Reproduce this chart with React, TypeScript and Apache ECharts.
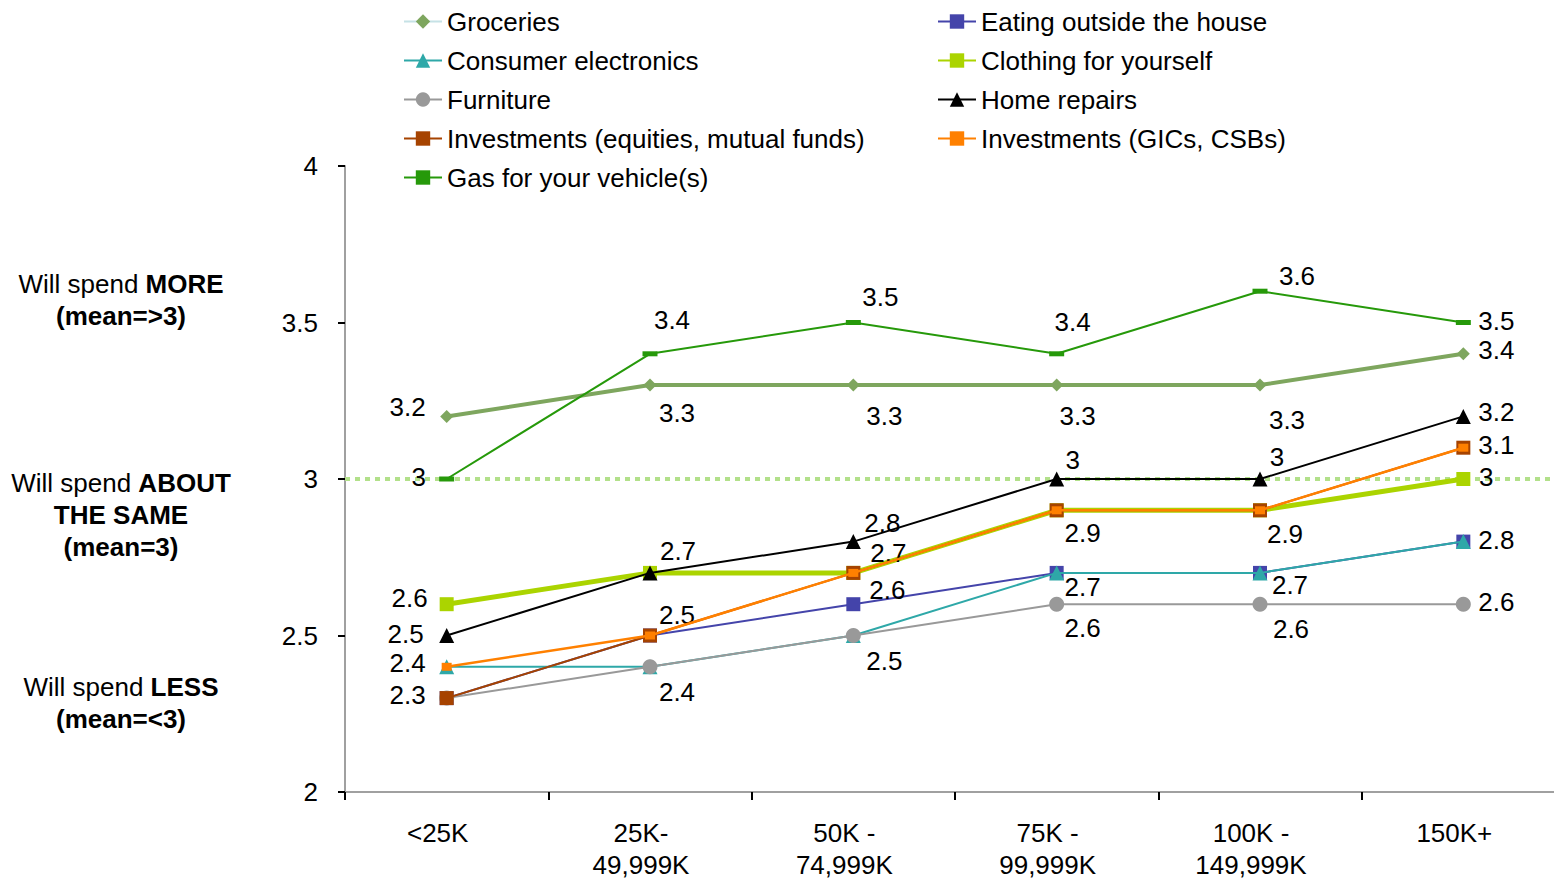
import React, { useEffect, useRef } from 'react';
import * as echarts from 'echarts';

const categories = ['<25K', '25K-\n49,999K', '50K -\n74,999K', '75K -\n99,999K', '100K -\n149,999K', '150K+'];
const groceries = [3.2, 3.3, 3.3, 3.3, 3.3, 3.4];
const eatingOut = [2.3, 2.5, 2.6, 2.7, 2.7, 2.8];
const electronics = [2.4, 2.4, 2.5, 2.7, 2.7, 2.8];
const clothing = [2.6, 2.7, 2.7, 2.9, 2.9, 3.0];
const furniture = [2.3, 2.4, 2.5, 2.6, 2.6, 2.6];
const homeRepairs = [2.5, 2.7, 2.8, 3.0, 3.0, 3.2];
const investEquities = [2.3, 2.5, 2.7, 2.9, 2.9, 3.1];
const investGICs = [2.4, 2.5, 2.7, 2.9, 2.9, 3.1];
const gas = [3.0, 3.4, 3.5, 3.4, 3.6, 3.5];
const yMin = 2;
const yMax = 4;
const yInterval = 0.5;
const meanValue = 3;

const FONT = '"Liberation Sans", Arial, sans-serif';

type Off = [number, number] | null;

// label offsets (label centre relative to the point), styling only
const labelOffsets: Record<string, Off[]> = {
  Groceries: [[-39, -9], [27, 28], [31, 31], [21, 31], [27, 35], [33, -4]],
  'Eating outside the house': [null, null, [34, -14], null, null, null],
  'Consumer electronics': [null, null, null, [26, 14], [30, 12], [33, -2]],
  'Clothing for yourself': [[-37, -6], null, null, [26, 23], [25, 24], [23, -2]],
  Furniture: [null, [27, 25], [31, 25], [26, 24], [31, 25], [33, -2]],
  'Home repairs': [[-41, -2], [28, -22], [29, -19], [16, -19], [17, -22], [33, -4]],
  'Investments (equities, mutual funds)': [[-39, -3], [27, -21], [35, -20], null, null, [33, -3]],
  'Investments (GICs, CSBs)': [[-39, -4], null, null, null, null, null],
  'Gas for your vehicle(s)': [[-28, -2], [22, -34], [27, -26], [16, -32], [37, -15], [33, -2]],
};

const seriesDefs = [
  { name: 'Groceries', values: groceries, color: '#7EA65E', width: 4, symbol: 'diamond', size: 13 },
  { name: 'Eating outside the house', values: eatingOut, color: '#4444AA', width: 2, symbol: 'rect', size: 14 },
  { name: 'Consumer electronics', values: electronics, color: '#2EA8A8', width: 2, symbol: 'triangle', size: 15 },
  { name: 'Clothing for yourself', values: clothing, color: '#ABD400', width: 5, symbol: 'rect', size: 14 },
  { name: 'Furniture', values: furniture, color: '#999999', width: 2, symbol: 'circle', size: 15 },
  { name: 'Home repairs', values: homeRepairs, color: '#000000', width: 2, symbol: 'triangle', size: 15 },
  { name: 'Investments (equities, mutual funds)', values: investEquities, color: '#A64300', width: 2, symbol: 'rect', size: 14 },
  { name: 'Investments (GICs, CSBs)', values: investGICs, color: '#FF8000', width: 2.5, symbol: 'rect', size: [10, 8] },
  { name: 'Gas for your vehicle(s)', values: gas, color: '#26990A', width: 2, symbol: 'rect', size: [15, 5] },
];

const legendLeft = ['Groceries', 'Consumer electronics', 'Furniture', 'Investments (equities, mutual funds)', 'Gas for your vehicle(s)'];
const legendRight = ['Eating outside the house', 'Clothing for yourself', 'Home repairs', 'Investments (GICs, CSBs)'];

export default function App() {
  const ref = useRef<HTMLDivElement>(null);
  useEffect(() => {
    if (!ref.current) return;
    const chart = echarts.init(ref.current, undefined, { renderer: 'svg' });

    const series: any[] = seriesDefs.map((d, si) => {
      const offs = labelOffsets[d.name] || [];
      const data = d.values.map((v, i) =>
        offs[i]
          ? { value: v, label: { show: true, position: 'inside', offset: offs[i] } }
          : v
      );
      const s: any = {
        type: 'line',
        name: d.name,
        data,
        symbol: d.symbol,
        symbolSize: d.size,
        showAllSymbol: true,
        lineStyle: { color: d.color, width: d.width },
        itemStyle: { color: d.color, borderWidth: 0 },
        label: {
          show: false,
          fontSize: 26,
          fontFamily: FONT,
          color: '#000',
          textBorderWidth: 0,
          align: 'center',
          verticalAlign: 'middle',
        },
        emphasis: { disabled: true },
        z: 2 + si,
      };
      if (si === 0) {
        s.markLine = {
          silent: true,
          symbol: ['none', 'none'],
          label: { show: false },
          lineStyle: { color: '#B2E08A', type: [5, 5], width: 4 },
          emphasis: { disabled: true },
          data: [{ yAxis: meanValue }],
        };
      }
      return s;
    });

    const legendCommon = {
      orient: 'vertical',
      top: 2,
      itemGap: 0,
      itemWidth: 38,
      itemHeight: 18,
      padding: 0,
      selectedMode: false,
      textStyle: { fontSize: 26, lineHeight: 39, fontFamily: FONT, color: '#000' },
    };

    const textLine = (y: number, normal: string, bold: string) => ({
      type: 'text',
      x: 121,
      y,
      style: {
        text: (normal ? `{n|${normal}}` : '') + `{b|${bold}}`,
        align: 'center',
        verticalAlign: 'middle',
        fontSize: 26,
        fontFamily: FONT,
        fill: '#000',
        rich: {
          n: { fontSize: 26, fontFamily: FONT, fill: '#000', color: '#000' },
          b: { fontSize: 26, fontFamily: FONT, fontWeight: 'bold', fill: '#000', color: '#000' },
        },
      },
    });

    chart.setOption({
      animation: false,
      backgroundColor: '#fff',
      grid: { left: 345, top: 166, width: 1220, height: 626, containLabel: false },
      legend: [
        {
          ...legendCommon,
          left: 403,
          data: legendLeft.map((n) =>
            n === 'Groceries' ? { name: n, lineStyle: { color: '#C6E2E6' } } : { name: n }
          ),
        },
        { ...legendCommon, left: 937, data: legendRight.map((n) => ({ name: n })) },
      ],
      xAxis: {
        type: 'category',
        data: categories,
        boundaryGap: true,
        axisLine: { lineStyle: { color: '#A0A0A0', width: 2 } },
        axisTick: { show: true, length: 8, lineStyle: { color: '#000', width: 2 } },
        axisLabel: {
          interval: 0,
          fontSize: 26,
          lineHeight: 32,
          fontFamily: FONT,
          color: '#000',
          margin: 25,
          padding: [0, 18, 0, 0],
        },
        splitLine: { show: false },
      },
      yAxis: {
        type: 'value',
        min: yMin,
        max: yMax,
        interval: yInterval,
        axisLine: { show: true, lineStyle: { color: '#A0A0A0', width: 2 } },
        axisTick: { show: true, length: 7, lineStyle: { color: '#000', width: 2 } },
        axisLabel: { fontSize: 26, fontFamily: FONT, color: '#000', margin: 27 },
        splitLine: { show: false },
      },
      graphic: [
        textLine(284, 'Will spend ', 'MORE'),
        textLine(316, '', '(mean=>3)'),
        textLine(483, 'Will spend ', 'ABOUT'),
        textLine(515, '', 'THE SAME'),
        textLine(547, '', '(mean=3)'),
        textLine(687, 'Will spend ', 'LESS'),
        textLine(719, '', '(mean=<3)'),
      ],
      series,
    });

    return () => chart.dispose();
  }, []);

  return (
    <div
      style={{
        position: 'fixed',
        left: 0,
        top: 0,
        width: 1554,
        height: 882,
        overflow: 'hidden',
        background: '#fff',
      }}
    >
      <div ref={ref} style={{ width: 1580, height: 882 }} />
    </div>
  );
}
